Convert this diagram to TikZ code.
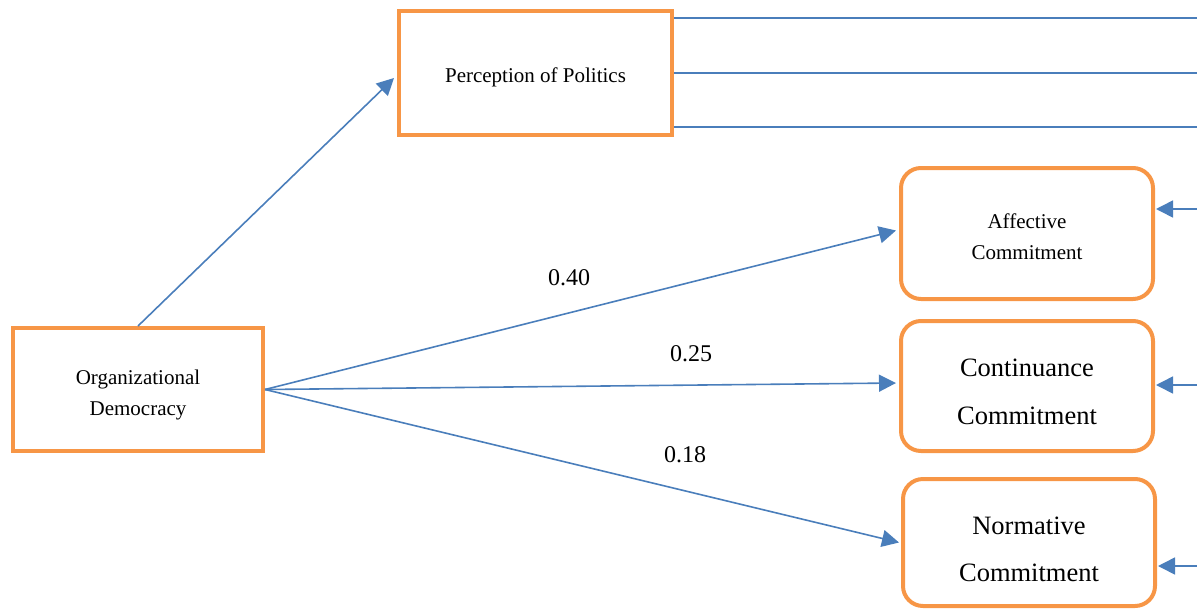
\documentclass[tikz,border=0pt]{standalone}
\usepackage{fontspec}
\setmainfont{Liberation Serif}
\usetikzlibrary{arrows.meta}
\definecolor{boxorange}{HTML}{F79646}
\definecolor{lineblue}{HTML}{4A7EBB}
\begin{document}
\begin{tikzpicture}[x=1pt,y=-1pt,
  sqbox/.style={draw=boxorange,line width=4pt,inner sep=0pt},
  rbox/.style={draw=boxorange,line width=4pt,rounded corners=20pt,inner sep=0pt,minimum width=252pt},
  small/.style={align=center,inner sep=0pt,font=\fontsize{21}{31}\selectfont},
  large/.style={align=center,inner sep=0pt,font=\fontsize{26.5}{47.5}\selectfont},
  conn/.style={draw=lineblue,line width=1.6pt},
  arr/.style={conn,-{Triangle[length=17pt,width=17pt]}},
  lbl/.style={font=\fontsize{24}{28}\selectfont}]
\useasboundingbox (0,0) rectangle (1197,611);
\node[sqbox,minimum width=250pt,minimum height=123pt] (od) at (138,389.5) {};
\node[sqbox,minimum width=273pt,minimum height=124pt] (pp) at (535.5,73) {};
\node[rbox,minimum height=131pt] (ac) at (1027,233.5) {};
\node[rbox,minimum height=130pt] (cc) at (1027,386) {};
\node[rbox,minimum height=127pt] (nc) at (1029,542.5) {};
\node[small] (odt) at ([yshift=-5pt]od.center) {Organizational\\Democracy};
\node[small] (ppt) at ([yshift=-4pt]pp.center) {Perception of Politics};
\node[small] (act) at ([yshift=-3pt]ac.center) {Affective\\Commitment};
\node[large] (cct) at ([yshift=-6pt]cc.center) {Continuance\\Commitment};
\node[large] (nct) at ([yshift=-7pt]nc.center) {Normative\\Commitment};
% right-edge free ends
\coordinate (r1) at (1197,18);
\coordinate (r2) at (1197,73);
\coordinate (r3) at (1197,127);
\coordinate (ra) at (1197,209);
\coordinate (rc) at (1197,385);
\coordinate (rn) at (1197,566);
% connectors
\draw[arr] (od.north) -- ([xshift=-3pt,yshift=-5pt]pp.west);
\draw[arr] (od.east) -- ([xshift=-3pt,yshift=3pt]ac.west);
\draw[arr] (od.east) -- ([xshift=-3pt,yshift=3pt]cc.west);
\draw[arr] (od.east) -- ([xshift=-2pt]nc.west);
\draw[conn] (pp.east |- r1) -- (r1);
\draw[conn] (pp.east |- r2) -- (r2);
\draw[conn] (pp.east |- r3) -- (r3);
\draw[arr] (ra) -- ([xshift=1pt]ac.east |- ra);
\draw[arr] (rc) -- ([xshift=1pt]cc.east |- rc);
\draw[arr] (rn) -- ([xshift=1pt]nc.east |- rn);
% labels
\node[lbl] (l1) at (569,278) {0.40};
\node[lbl] (l2) at (691,354) {0.25};
\node[lbl] (l3) at (685,455) {0.18};
\end{tikzpicture}
\end{document}
